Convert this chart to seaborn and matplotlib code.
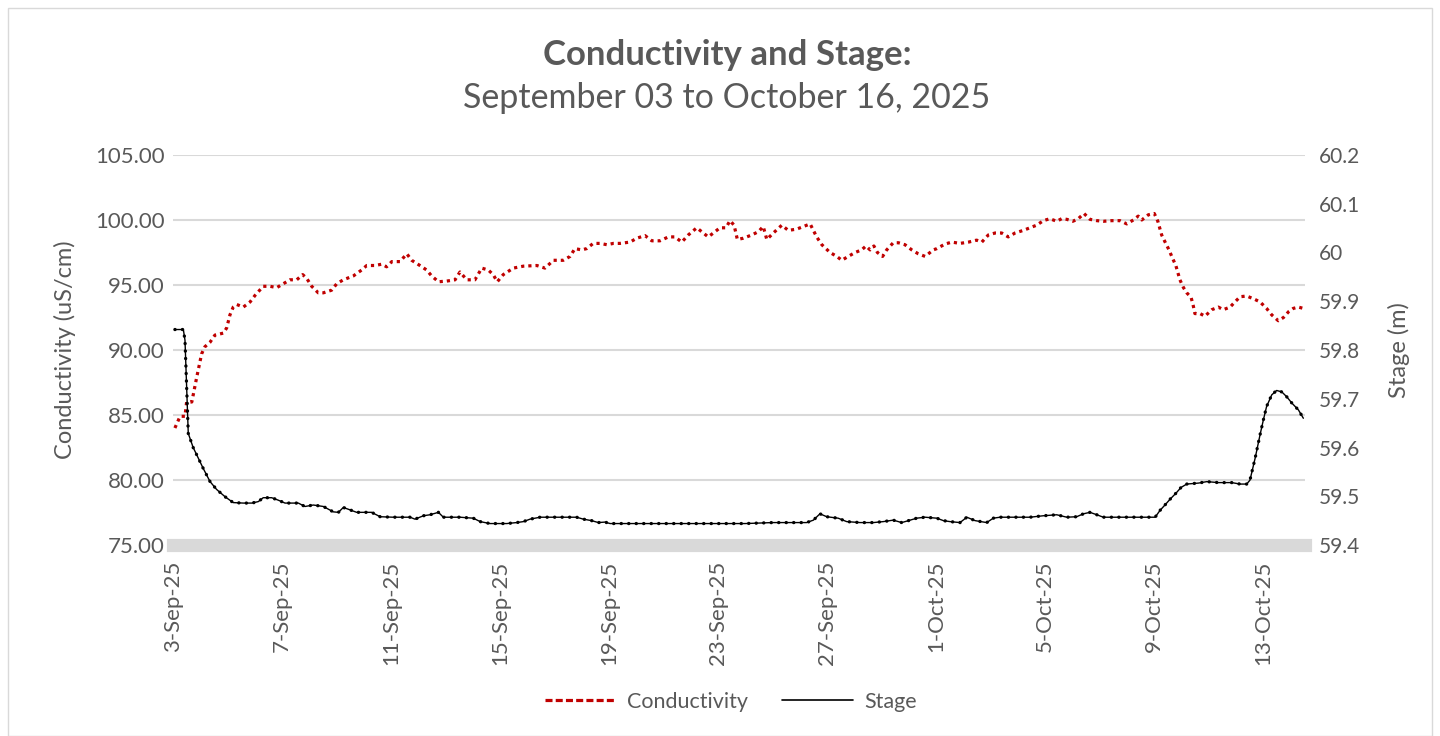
import datetime as dt
import matplotlib
matplotlib.use("Agg")
import matplotlib.pyplot as plt
import matplotlib.dates as mdates
from matplotlib.lines import Line2D
from matplotlib.patches import Rectangle
import numpy as np
import pandas as pd
import seaborn as sns

# ---------------- data (days since 3-Sep-2025 00:00) ----------------
start_date = dt.datetime(2025, 9, 3)

cond_days = [0.07, 0.26, 0.44, 0.50, 0.69, 0.87, 1.05, 1.17, 1.36, 1.54, 1.85, 1.97, 2.09, 2.21, 2.34,
             2.58, 2.83, 3.01, 3.31, 3.56, 3.81, 4.05, 4.29, 4.54, 4.76, 4.91, 5.09, 5.33, 5.52, 5.82,
             6.01, 6.25, 6.62, 6.92, 7.11, 7.41, 7.66, 7.84, 8.03, 8.33, 8.58, 8.76, 9.06, 9.31, 9.49,
             9.74, 10.04, 10.35, 10.53, 10.78, 11.08, 11.33, 11.57, 11.75, 11.90, 12.12, 12.49, 12.86,
             13.35, 13.65, 13.96, 14.32, 14.57, 14.75, 15.00, 15.18, 15.42, 15.67, 15.92, 16.16, 16.40,
             16.77, 17.02, 17.32, 17.57, 17.87, 18.18, 18.42, 18.67, 18.91, 19.22, 19.40, 19.64, 19.83,
             20.07, 20.29, 20.44, 20.59, 20.71, 20.93, 21.24, 21.48, 21.66, 21.79, 22.03, 22.34, 22.58,
             22.89, 23.13, 23.38, 23.62, 23.81, 24.11, 24.36, 24.54, 24.78, 25.03, 25.27, 25.43, 25.58,
             25.72, 25.85, 26.04, 26.19, 26.43, 26.62, 26.86, 27.11, 27.35, 27.60, 27.90, 28.03, 28.33,
             28.58, 28.88, 29.19, 29.49, 29.68, 29.92, 30.17, 30.41, 30.65, 30.90, 31.20, 31.45, 31.69,
             31.94, 32.18, 32.43, 32.61, 32.80, 33.02, 33.22, 33.43, 33.65, 33.90, 34.14, 34.45, 34.75,
             35.00, 35.24, 35.42, 35.55, 35.79, 36.01, 36.14, 36.28, 36.43, 36.55, 36.67, 36.80, 36.95,
             37.08, 37.20, 37.36, 37.44, 37.50, 37.69, 37.87, 38.12, 38.36, 38.54, 38.79, 38.97, 39.16,
             39.40, 39.64, 39.89, 40.13, 40.32, 40.56, 40.75, 40.94, 41.11, 41.30, 41.48]
cond_values = [84.0, 84.9, 84.9, 86.0, 86.0, 87.9, 89.7, 90.25, 90.6, 91.15, 91.3, 91.7, 92.7, 93.3, 93.5,
               93.3, 93.7, 94.2, 94.9, 94.9, 94.8, 95.1, 95.4, 95.4, 95.8, 95.5, 94.9, 94.4, 94.4, 94.6,
               95.1, 95.4, 95.7, 96.15, 96.5, 96.5, 96.6, 96.4, 96.8, 96.8, 97.4, 96.9, 96.5, 96.15, 95.7,
               95.25, 95.3, 95.4, 96.0, 95.4, 95.4, 96.3, 96.15, 95.8, 95.25, 95.8, 96.3, 96.45,
               96.5, 96.3, 96.9, 96.9, 97.2, 97.8, 97.7, 97.8, 98.2, 98.2, 98.1, 98.2, 98.2,
               98.3, 98.6, 98.8, 98.4, 98.4, 98.7, 98.7, 98.3, 98.85, 99.4, 99.1, 98.7, 99.0,
               99.4, 99.4, 99.95, 99.6, 98.5, 98.6, 98.85, 99.1, 99.5, 98.5, 99.0, 99.6, 99.2,
               99.3, 99.5, 99.7, 98.7, 98.1, 97.5, 97.2, 96.9, 97.2, 97.5, 97.7, 98.0, 97.7,
               98.0, 97.5, 97.2, 97.7, 98.25, 98.25, 98.1, 97.7, 97.4, 97.2, 97.7, 97.8, 98.15,
               98.3, 98.2, 98.3, 98.45, 98.3, 98.85, 99.0, 99.0, 98.7, 99.0, 99.2, 99.4, 99.6,
               99.95, 100.1, 99.9, 100.1, 100.05, 99.9, 100.1, 100.5, 100.05, 99.95, 99.9, 99.95, 99.95,
               99.7, 100.0, 100.3, 100.0, 100.4, 100.5, 99.9, 98.85, 98.2, 97.7, 97.1, 96.5, 95.4,
               94.8, 94.4, 94.05, 93.4, 92.8, 92.8, 92.6, 93.1, 93.3, 93.1, 93.3, 93.7, 94.1,
               94.15, 93.95, 93.7, 93.2, 92.7, 92.25, 92.5, 92.95, 93.2, 93.3, 93.2]

stage_days = [0.07, 0.38, 0.44, 0.50, 0.56, 0.74, 0.93, 1.11, 1.36, 1.60, 1.91, 2.21, 2.58, 2.89, 3.13,
              3.31, 3.62, 3.86, 4.11, 4.60, 4.84, 5.15, 5.52, 5.88, 6.07, 6.25, 6.50, 6.74, 7.29, 7.60,
              8.08, 8.70, 8.88, 9.19, 9.43, 9.74, 9.92, 10.53, 11.02, 11.27, 11.63, 12.25, 12.61, 12.86,
              13.10, 13.47, 13.96, 14.81, 15.06, 15.36, 15.61, 15.85, 16.04, 17.0, 18.0, 19.0, 20.0,
              21.00, 22.0, 23.25, 23.50, 23.74, 23.99, 24.41, 24.72, 25.21, 25.70, 26.07, 26.43, 26.74,
              26.99, 27.29, 27.60, 28.03, 28.27, 28.51, 28.88, 29.13, 29.43, 29.86, 30.10, 30.35, 31.45,
              31.94, 32.43, 32.80, 33.16, 33.41, 33.65, 33.90, 34.14, 35.0, 36.04, 36.22, 36.40, 36.59,
              36.80, 36.99, 37.20, 37.63, 37.94, 38.36, 38.85, 39.16, 39.40, 39.52, 39.71, 39.89, 40.01,
              40.13, 40.32, 40.50, 40.69, 40.87, 41.06, 41.30, 41.48]
stage_values = [59.842, 59.842, 59.82, 59.725, 59.629, 59.600, 59.578, 59.557, 59.530, 59.514, 59.499,
                59.487, 59.486, 59.486, 59.489, 59.497, 59.497, 59.492, 59.486, 59.486, 59.479, 59.482,
                59.479, 59.468, 59.467, 59.477, 59.472, 59.467, 59.467, 59.458, 59.457, 59.457, 59.453,
                59.460, 59.462, 59.467, 59.457, 59.457, 59.455, 59.448, 59.444, 59.444, 59.446, 59.448,
                59.453, 59.457, 59.457, 59.457, 59.453, 59.450, 59.446, 59.447, 59.444, 59.444, 59.444,
                59.444, 59.444, 59.444, 59.446, 59.446, 59.451, 59.464, 59.458, 59.455, 59.448, 59.446,
                59.446, 59.448, 59.451, 59.446, 59.450, 59.455, 59.457, 59.455, 59.450, 59.448, 59.446,
                59.457, 59.450, 59.446, 59.455, 59.457, 59.457, 59.460, 59.462, 59.457, 59.458, 59.464,
                59.467, 59.462, 59.457, 59.457, 59.457, 59.471, 59.482, 59.494, 59.506, 59.518, 59.525,
                59.527, 59.530, 59.528, 59.528, 59.525, 59.525, 59.533, 59.578, 59.626, 59.656, 59.684,
                59.708, 59.717, 59.714, 59.704, 59.691, 59.677, 59.660]

left_ticks = [75, 80, 85, 90, 95, 100, 105]
right_ticks = [59.4, 59.5, 59.6, 59.7, 59.8, 59.9, 60.0, 60.1, 60.2]
right_tick_labels = ["59.4", "59.5", "59.6", "59.7", "59.8", "59.9", "60", "60.1", "60.2"]
title_text = "Conductivity and Stage:"
subtitle_text = "September 03 to October 16, 2025"
left_label = "Conductivity (uS/cm)"
right_label = "Stage (m)"
series_names = ["Conductivity", "Stage"]

# ---------------- frames ----------------
cond_df = pd.DataFrame({"time": [start_date + dt.timedelta(days=d) for d in cond_days],
                        "value": cond_values})
stage_df = pd.DataFrame({"time": [start_date + dt.timedelta(days=d) for d in stage_days],
                         "value": stage_values})

sns.set_theme(style="white")
plt.rcParams["font.family"] = ["Lato", "DejaVu Sans"]

TXT = "#595959"
GRID = "#d9d9d9"
RED = "#c00000"

fig = plt.figure(figsize=(14.4, 7.36), dpi=100)
ax = fig.add_axes([173 / 1440, 1 - 545 / 736, (1305 - 173) / 1440, (545 - 155) / 736])
ax2 = ax.twinx()

sns.lineplot(data=cond_df, x="time", y="value", ax=ax, color=RED, linewidth=2.3,
             linestyle=(0, (1.0, 1.25)), dash_capstyle="butt", estimator=None, zorder=3)
sns.lineplot(data=stage_df, x="time", y="value", ax=ax2, color="black", linewidth=1.0,
             estimator=None, zorder=3)
sns.lineplot(data=stage_df, x="time", y="value", ax=ax2, color="black", linewidth=2.4,
             linestyle=(0, (0.05, 2.2)), dash_capstyle="round", estimator=None, zorder=3)

xmin = start_date
xmax = start_date + dt.timedelta(days=41.54)
ax.set_xlim(xmin, xmax)
ax.set_ylim(75, 105)
ax2.set_ylim(59.4, 60.2)

ax.set_yticks(left_ticks)
ax.set_yticklabels([f"{v:.2f}" for v in left_ticks])
ax2.set_yticks(right_ticks)
ax2.set_yticklabels(right_tick_labels)

tick_dates = [start_date + dt.timedelta(days=4 * i) for i in range(11)]
ax.set_xticks(tick_dates)
ax.xaxis.set_major_formatter(mdates.DateFormatter("%-d-%b-%y"))

ax.grid(axis="y", color=GRID, linewidth=1.5)
ax.grid(axis="x", visible=False)
ax2.grid(False)
ax.set_axisbelow(True)

for a in (ax, ax2):
    for s in ("top", "left", "right"):
        a.spines[s].set_visible(False)
ax2.spines["bottom"].set_visible(False)
ax.spines["bottom"].set_color(GRID)
ax.spines["bottom"].set_linewidth(9.5)

ax.tick_params(axis="y", length=0, pad=6, labelsize=16, labelcolor=TXT)
ax2.tick_params(axis="y", length=0, pad=10, labelsize=15, labelcolor=TXT)
ax.tick_params(axis="x", length=0, pad=11, labelsize=16, labelcolor=TXT, labelrotation=90)

ax.set_xlabel("")
ax.set_ylabel(left_label, fontsize=17, color=TXT, labelpad=14)
ax2.set_ylabel(right_label, fontsize=17, color=TXT, labelpad=20)

fig.text(727 / 1440, 1 - 55 / 736, title_text, ha="center", va="center",
         fontsize=25, fontweight="bold", color=TXT)
fig.text(727 / 1440, 1 - 98 / 736, subtitle_text, ha="center", va="center",
         fontsize=24.5, color=TXT)

handles = [Line2D([0], [0], color=RED, linewidth=2.3, linestyle=(0, (2.2, 1.0))),
           Line2D([0], [0], color="black", linewidth=1.2)]
fig.legend(handles, series_names, loc="center", bbox_to_anchor=(731 / 1440, 1 - 702 / 736),
           ncol=2, frameon=False, fontsize=15.5, labelcolor=TXT, handlelength=3.3,
           handletextpad=0.5, columnspacing=1.6)

fig.patches.append(Rectangle((8 / 1440, 0), (1432 - 8) / 1440, (736 - 8) / 736,
                             transform=fig.transFigure, fill=False, edgecolor=GRID,
                             linewidth=1.0))

fig.savefig("out.png", dpi=100)
